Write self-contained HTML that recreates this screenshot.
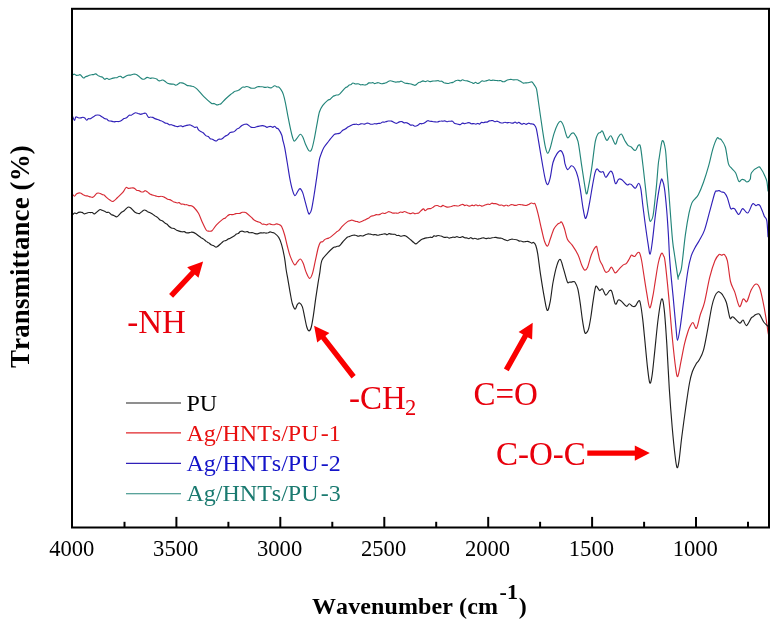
<!DOCTYPE html>
<html><head><meta charset="utf-8"><style>
html,body{margin:0;padding:0;background:#fff;}
svg{display:block;}
text{font-kerning:none;}
</style></head><body>
<svg width="777" height="626" viewBox="0 0 777 626">
<rect width="777" height="626" fill="#fff"/>
<g fill="none" stroke-width="1.15" stroke-linejoin="round" stroke-linecap="round">
<path stroke="#23857a" d="M72.6 74.8C72.92 74.70 73.88 74.12 74.5 74.2C75.17 74.31 75.81 75.19 76.4 75.4C77.09 75.52 77.73 75.31 78.4 75.2C79.02 75.13 79.45 74.34 80.3 74.8C81.15 75.26 82.64 77.69 83.5 78.0C84.36 78.31 84.79 76.99 85.4 76.7C86.08 76.36 86.72 76.37 87.4 76.1C88.01 75.88 88.62 75.44 89.3 75.2C89.98 74.96 90.72 74.79 91.4 74.7C92.14 74.58 92.86 74.71 93.6 74.6C94.28 74.44 94.91 73.70 95.7 73.9C96.49 74.10 97.43 75.30 98.3 75.8C99.17 76.23 100.15 76.44 100.9 76.7C101.65 76.96 102.17 76.92 102.8 77.4C103.43 77.78 104.02 79.13 104.7 79.3C105.38 79.47 106.14 78.32 106.9 78.3C107.59 78.37 108.31 79.38 109.0 79.4C109.76 79.50 110.52 78.92 111.2 78.7C111.88 78.48 112.47 78.29 113.1 78.1C113.73 77.99 114.36 77.90 115.0 77.8C115.64 77.70 116.30 77.79 117.0 77.6C117.60 77.35 118.25 76.70 118.9 76.5C119.55 76.30 120.20 76.14 120.8 76.4C121.50 76.57 122.05 77.79 122.8 77.8C123.55 77.81 124.50 76.85 125.3 76.4C126.20 75.98 127.04 75.43 127.9 75.2C128.76 74.97 129.63 75.22 130.5 75.1C131.37 74.89 132.25 74.34 133.1 74.2C133.95 74.06 134.75 73.96 135.6 74.2C136.45 74.44 137.33 75.03 138.2 75.7C139.07 76.30 140.05 77.41 140.8 78.0C141.55 78.59 142.07 79.05 142.7 79.2C143.33 79.38 143.85 79.30 144.6 79.0C145.35 78.70 146.33 77.51 147.2 77.4C148.07 77.29 148.93 78.24 149.8 78.3C150.67 78.44 151.61 78.03 152.4 78.0C153.19 77.97 153.82 78.00 154.5 78.2C155.24 78.37 155.96 78.67 156.7 79.1C157.38 79.54 158.12 80.57 158.8 80.8C159.48 81.03 160.10 80.60 160.8 80.5C161.40 80.33 161.99 79.86 162.7 80.0C163.41 80.14 164.19 80.75 165.0 81.3C165.81 81.85 166.70 82.87 167.6 83.3C168.40 83.74 169.35 83.76 170.1 83.9C170.85 84.04 171.39 84.07 172.0 84.1C172.68 84.21 173.32 84.14 174.0 84.3C174.61 84.49 175.26 85.20 175.9 85.2C176.54 85.20 177.19 84.69 177.8 84.3C178.48 83.93 179.12 83.15 179.8 82.9C180.41 82.68 180.94 82.77 181.7 82.9C182.46 83.03 183.43 83.29 184.3 83.7C185.17 84.12 186.11 85.07 186.9 85.4C187.69 85.73 188.32 85.55 189.0 85.7C189.74 85.79 190.46 85.99 191.2 86.1C191.88 86.27 192.51 86.17 193.3 86.5C194.09 86.83 195.03 87.44 195.9 88.1C196.77 88.81 197.22 89.22 198.5 90.6C199.78 91.98 201.47 94.30 203.6 96.4C205.73 98.50 209.69 102.04 211.3 103.2C212.91 104.36 212.59 103.24 213.2 103.4C213.88 103.49 214.52 103.68 215.2 104.0C215.81 104.22 216.45 104.94 217.1 105.0C217.75 105.06 218.40 104.50 219.1 104.3C219.70 104.07 219.93 104.58 221.0 103.7C222.07 102.82 223.90 100.53 225.5 99.0C227.10 97.47 229.39 95.51 230.6 94.5C231.81 93.49 232.04 93.47 232.8 92.9C233.49 92.39 234.21 91.62 234.9 91.3C235.66 90.91 236.42 91.00 237.1 90.8C237.78 90.60 238.39 90.48 239.0 90.1C239.68 89.67 240.32 88.87 241.0 88.4C241.61 87.84 242.26 87.19 242.9 87.0C243.54 86.81 244.19 87.31 244.8 87.2C245.48 87.14 246.12 86.54 246.8 86.5C247.41 86.46 248.02 86.73 248.7 87.0C249.38 87.27 250.12 87.91 250.8 88.1C251.54 88.33 252.26 88.26 253.0 88.2C253.68 88.22 254.32 88.25 255.1 88.0C255.88 87.75 256.80 86.96 257.6 86.7C258.50 86.53 259.37 86.69 260.2 86.7C261.03 86.71 261.83 86.67 262.6 86.8C263.47 86.90 264.26 87.36 265.1 87.4C265.94 87.44 266.95 86.95 267.7 87.0C268.45 87.05 268.97 87.59 269.6 87.7C270.23 87.82 270.65 88.02 271.5 87.7C272.35 87.38 273.79 85.93 274.7 85.8C275.61 85.67 276.20 86.67 276.9 86.9C277.70 87.20 278.29 86.54 279.2 87.4C280.11 88.26 281.55 90.35 282.4 92.1C283.25 93.85 283.67 95.45 284.3 97.9C284.93 100.35 285.57 103.60 286.2 106.8C286.83 110.00 287.35 113.27 288.1 117.1C288.85 120.93 289.95 126.40 290.7 129.8C291.45 133.20 292.02 135.62 292.6 137.5C293.18 139.38 293.45 141.00 294.2 141.1C294.95 141.20 296.08 139.23 297.1 138.1C298.12 136.97 299.35 134.50 300.3 134.3C301.25 134.10 301.95 135.30 302.8 136.9C303.65 138.50 304.33 141.57 305.4 143.9C306.47 146.23 308.13 150.05 309.2 150.9C310.27 151.75 310.95 151.02 311.8 149.0C312.65 146.98 313.45 142.85 314.3 138.8C315.15 134.75 316.05 129.17 316.9 124.7C317.75 120.23 318.45 115.18 319.4 112.0C320.35 108.82 321.22 107.53 322.6 105.6C323.98 103.67 326.43 101.47 327.7 100.4C328.97 99.33 329.40 99.83 330.2 99.2C331.10 98.56 332.07 97.19 332.8 96.6C333.53 96.01 334.03 95.94 334.6 95.7C335.27 95.41 335.89 95.13 336.5 95.0C337.11 94.87 337.70 95.09 338.3 94.9C338.90 94.66 338.93 94.86 340.1 93.7C341.27 92.54 344.11 89.03 345.3 87.9C346.49 86.77 346.58 87.41 347.2 86.9C347.87 86.49 348.51 85.57 349.1 85.1C349.79 84.70 350.43 84.72 351.1 84.4C351.72 84.01 352.25 83.06 353.0 83.0C353.75 82.94 354.73 83.88 355.6 84.0C356.47 84.15 357.41 83.68 358.2 83.8C358.99 83.92 359.62 84.62 360.3 84.8C361.04 84.89 361.76 84.57 362.5 84.6C363.18 84.65 363.89 85.02 364.6 85.0C365.31 84.98 366.02 84.82 366.7 84.5C367.44 84.13 368.16 83.17 368.9 82.9C369.58 82.68 370.34 83.05 371.0 83.0C371.66 82.95 372.23 82.55 372.8 82.6C373.46 82.74 374.07 83.53 374.7 83.6C375.30 83.65 375.91 83.18 376.5 83.0C377.14 82.89 377.76 82.65 378.4 82.7C378.99 82.76 379.60 83.20 380.2 83.4C380.83 83.52 381.44 83.66 382.1 83.7C382.67 83.67 383.24 83.54 383.9 83.4C384.56 83.26 385.32 83.13 386.0 82.8C386.74 82.49 387.46 81.80 388.2 81.5C388.88 81.13 389.51 80.82 390.3 80.8C391.09 80.78 392.03 81.14 392.9 81.4C393.77 81.57 394.74 82.02 395.5 82.1C396.26 82.18 396.79 81.84 397.4 81.8C398.08 81.79 398.72 82.05 399.4 81.9C400.01 81.84 400.44 81.02 401.3 81.2C402.16 81.38 403.54 82.63 404.5 83.0C405.46 83.37 406.20 83.30 407.1 83.4C407.90 83.57 408.74 83.64 409.6 83.8C410.46 83.96 411.33 84.13 412.2 84.4C413.07 84.63 414.04 85.33 414.8 85.3C415.56 85.27 416.09 84.70 416.7 84.2C417.38 83.74 418.02 82.77 418.7 82.4C419.31 82.06 419.88 82.35 420.6 82.1C421.32 81.85 422.18 81.03 423.0 80.9C423.76 80.85 424.54 81.58 425.3 81.6C426.12 81.54 426.93 80.79 427.7 80.8C428.47 80.81 429.19 81.59 429.9 81.6C430.68 81.69 431.42 81.19 432.2 81.1C432.91 80.98 433.72 81.03 434.4 81.0C435.08 80.97 435.63 80.97 436.2 80.9C436.87 80.84 437.48 80.57 438.1 80.6C438.72 80.68 439.33 81.12 439.9 81.2C440.57 81.34 441.12 81.04 441.8 81.3C442.48 81.56 443.29 82.49 444.0 82.8C444.78 83.12 445.52 83.08 446.3 83.2C447.01 83.32 447.76 83.58 448.5 83.5C449.24 83.42 449.99 82.91 450.7 82.7C451.48 82.55 452.22 82.70 453.0 82.4C453.71 82.12 454.52 81.36 455.2 81.0C455.88 80.64 456.43 80.37 457.1 80.3C457.67 80.18 458.28 80.33 458.9 80.4C459.52 80.51 460.13 80.93 460.8 80.8C461.37 80.72 461.98 79.86 462.6 79.8C463.22 79.74 463.83 80.30 464.5 80.5C465.07 80.65 465.68 80.73 466.3 80.8C466.92 80.94 467.53 80.89 468.1 81.1C468.77 81.28 469.38 81.77 470.0 82.0C470.62 82.23 471.23 82.20 471.9 82.5C472.47 82.70 473.08 83.50 473.7 83.5C474.32 83.46 474.93 82.33 475.5 82.3C476.17 82.34 476.72 83.44 477.4 83.5C478.07 83.56 478.87 83.12 479.6 82.7C480.33 82.29 481.12 81.25 481.8 81.0C482.48 80.75 483.03 81.21 483.6 81.2C484.27 81.22 484.88 81.14 485.5 81.0C486.12 80.90 486.73 80.69 487.4 80.5C487.97 80.28 488.58 79.80 489.2 79.8C489.82 79.80 490.43 80.41 491.1 80.5C491.67 80.53 492.28 80.19 492.9 80.2C493.52 80.17 494.13 80.37 494.8 80.4C495.37 80.48 495.96 80.45 496.6 80.5C497.24 80.55 497.91 80.74 498.6 80.7C499.22 80.75 499.88 80.38 500.5 80.5C501.19 80.67 501.84 81.42 502.5 81.6C503.16 81.78 503.81 81.77 504.5 81.6C505.12 81.41 505.78 80.81 506.4 80.5C507.09 80.21 507.70 80.00 508.4 79.8C509.10 79.60 509.88 79.32 510.6 79.3C511.37 79.32 512.11 79.73 512.8 79.8C513.59 79.88 514.33 79.78 515.1 79.8C515.82 79.77 516.60 79.65 517.3 79.8C518.00 79.95 518.61 80.35 519.3 80.7C519.92 81.00 520.58 81.35 521.2 81.8C521.89 82.16 522.49 82.91 523.2 83.1C523.91 83.29 524.71 82.95 525.5 82.9C526.22 82.84 526.98 82.86 527.7 82.8C528.49 82.67 529.27 82.43 530.0 82.3C530.73 82.17 531.30 81.42 532.1 82.0C532.90 82.58 534.05 84.57 534.8 85.8C535.55 87.03 535.97 86.53 536.6 89.4C537.23 92.27 537.62 96.25 538.6 103.0C539.58 109.75 541.37 122.53 542.5 129.9C543.63 137.27 544.53 143.30 545.4 147.2C546.27 151.10 546.90 153.15 547.7 153.3C548.50 153.45 549.15 151.37 550.2 148.1C551.25 144.83 552.73 137.70 554.0 133.7C555.27 129.70 556.68 126.17 557.8 124.1C558.92 122.03 559.73 120.97 560.7 121.3C561.67 121.63 562.48 123.38 563.6 126.1C564.72 128.82 566.12 136.33 567.4 137.6C568.68 138.87 570.18 134.40 571.3 133.7C572.42 133.00 572.98 132.12 574.1 133.4C575.22 134.68 576.72 135.90 578.0 141.4C579.28 146.90 580.52 158.08 581.8 166.4C583.08 174.72 584.88 186.83 585.7 191.3C586.52 195.77 586.38 193.20 586.7 193.2C587.02 193.20 586.82 195.13 587.6 191.3C588.38 187.47 590.12 178.52 591.4 170.2C592.68 161.88 594.18 147.48 595.3 141.4C596.42 135.32 597.27 135.16 598.1 133.7C598.93 132.24 599.57 133.05 600.3 132.6C601.03 132.21 601.43 129.92 602.5 131.2C603.57 132.48 605.32 139.53 606.7 140.3C608.08 141.07 609.37 135.15 610.8 135.8C612.23 136.45 614.12 143.83 615.3 144.2C616.48 144.57 616.90 139.70 617.9 138.0C618.90 136.30 620.13 133.55 621.3 134.0C622.47 134.45 623.78 138.82 624.9 140.7C626.02 142.58 626.95 144.25 628.0 145.3C629.05 146.35 629.98 146.13 631.2 147.0C632.42 147.87 634.10 150.78 635.3 150.5C636.50 150.22 637.53 145.88 638.4 145.3C639.27 144.72 639.75 143.72 640.5 147.0C641.25 150.28 642.13 158.77 642.9 165.0C643.67 171.23 644.38 178.05 645.1 184.4C645.82 190.75 646.48 197.35 647.2 203.1C647.92 208.85 648.80 215.90 649.4 218.9C650.00 221.90 650.20 221.58 650.8 221.1C651.40 220.62 652.28 219.72 653.0 216.0C653.72 212.28 654.50 204.07 655.1 198.8C655.70 193.53 656.08 190.03 656.6 184.4C657.12 178.77 657.77 169.43 658.2 165.0C658.63 160.57 658.52 161.85 659.2 157.8C659.88 153.75 661.27 142.08 662.3 140.7C663.33 139.32 664.62 144.62 665.4 149.5C666.18 154.38 666.43 162.98 667.0 170.0C667.57 177.02 668.18 183.68 668.8 191.6C669.42 199.52 670.05 209.12 670.7 217.5C671.35 225.88 672.03 235.48 672.7 241.9C673.37 248.32 673.83 250.07 674.7 256.0C675.57 261.93 677.30 274.00 677.9 277.5C678.50 281.00 677.77 278.27 678.3 277.0C678.83 275.73 680.40 272.73 681.1 269.9C681.80 267.07 681.78 265.87 682.5 260.0C683.22 254.13 684.32 242.50 685.4 234.7C686.48 226.90 687.93 218.47 689.0 213.2C690.07 207.93 690.80 205.50 691.8 203.1C692.80 200.70 693.92 200.18 695.0 198.8C696.08 197.42 696.88 197.55 698.3 194.8C699.72 192.05 701.77 187.15 703.5 182.3C705.23 177.45 707.15 171.23 708.7 165.7C710.25 160.17 711.42 153.67 712.8 149.1C714.18 144.53 715.95 139.99 717.0 138.3C718.05 136.61 718.40 138.70 719.1 138.9C719.80 139.17 720.17 138.36 721.2 139.7C722.23 141.04 724.10 143.02 725.3 147.0C726.50 150.98 727.37 160.07 728.4 163.6C729.43 167.13 730.28 166.63 731.5 168.2C732.72 169.77 734.48 170.82 735.7 173.0C736.92 175.18 737.77 180.22 738.8 181.3C739.83 182.38 740.96 179.72 741.9 179.5C742.84 179.28 743.60 179.58 744.5 180.0C745.30 180.41 746.04 182.13 747.0 182.0C747.96 181.87 749.45 180.73 750.2 179.2C750.95 177.67 750.12 174.83 751.5 172.8C752.88 170.77 756.90 167.63 758.5 167.0C760.10 166.37 760.13 167.72 761.1 169.0C762.07 170.28 763.35 172.68 764.3 174.7C765.25 176.72 766.18 178.38 766.8 181.1C767.42 183.82 767.80 189.35 768.0 191.0"/>
<path stroke="#3020b8" d="M72.6 116.6C72.92 117.25 73.97 120.43 74.5 120.5C75.03 120.57 75.19 117.45 75.8 117.0C76.41 116.55 77.38 117.68 78.2 117.8C78.96 117.98 79.74 118.00 80.5 117.9C81.32 117.83 82.19 117.28 82.9 117.3C83.61 117.32 84.17 117.56 84.8 118.0C85.43 118.52 86.08 120.11 86.7 120.2C87.32 120.29 87.90 118.79 88.5 118.6C89.10 118.32 89.70 118.93 90.3 118.8C90.90 118.62 91.50 118.01 92.1 117.6C92.70 117.27 93.30 116.94 93.9 116.6C94.50 116.16 95.08 115.56 95.7 115.3C96.33 115.04 97.00 114.99 97.7 115.0C98.30 114.99 98.97 115.04 99.6 115.3C100.22 115.56 100.80 116.16 101.4 116.5C102.00 116.94 102.60 117.28 103.2 117.6C103.80 117.98 104.40 118.43 105.0 118.7C105.60 118.91 106.20 118.74 106.8 119.1C107.40 119.41 107.87 120.36 108.6 120.7C109.33 121.04 110.33 120.96 111.2 121.1C112.07 121.32 112.94 121.74 113.8 121.8C114.66 121.86 115.50 121.53 116.3 121.5C117.20 121.43 118.04 121.68 118.9 121.5C119.76 121.32 120.63 120.89 121.5 120.4C122.37 119.92 123.24 119.04 124.1 118.6C124.96 118.16 125.80 118.29 126.6 117.7C127.50 117.19 128.42 115.73 129.2 115.3C129.98 114.87 130.62 115.45 131.3 115.2C132.04 114.92 132.76 114.10 133.5 113.7C134.18 113.31 134.81 112.84 135.6 112.8C136.39 112.76 137.33 113.21 138.2 113.5C139.07 113.71 139.94 114.30 140.8 114.3C141.66 114.30 142.50 113.63 143.4 113.5C144.20 113.33 145.04 112.76 145.9 113.4C146.76 114.04 147.71 116.70 148.5 117.3C149.29 117.90 149.92 116.97 150.6 117.0C151.34 117.01 152.06 117.14 152.8 117.4C153.48 117.68 154.11 118.25 154.9 118.6C155.69 118.95 156.63 119.18 157.5 119.5C158.37 119.81 159.24 120.16 160.1 120.5C160.96 120.84 161.80 121.08 162.6 121.5C163.50 121.94 164.43 122.78 165.2 123.1C165.97 123.42 166.58 123.16 167.3 123.4C167.96 123.72 168.64 124.58 169.3 124.8C170.02 125.00 170.73 124.60 171.4 124.7C172.07 124.80 172.69 125.15 173.3 125.4C173.98 125.60 174.62 125.86 175.3 126.1C175.91 126.27 176.56 126.58 177.2 126.6C177.84 126.62 178.49 126.30 179.1 126.2C179.78 126.05 180.42 125.77 181.1 125.8C181.71 125.91 182.24 126.64 183.0 126.6C183.76 126.56 184.73 125.82 185.6 125.6C186.47 125.32 187.40 125.19 188.2 125.1C189.00 125.01 189.65 124.85 190.4 125.0C191.10 125.19 191.83 125.72 192.6 126.1C193.28 126.51 194.00 127.23 194.7 127.4C195.45 127.56 196.27 126.68 196.9 127.1C197.53 127.52 197.85 129.15 198.5 129.9C199.15 130.65 200.03 131.15 200.8 131.6C201.57 132.11 202.20 132.09 203.1 132.8C204.00 133.51 205.34 135.28 206.2 135.9C207.06 136.52 207.58 136.02 208.3 136.5C208.96 136.96 209.64 138.28 210.3 138.7C211.02 139.18 211.71 138.90 212.4 139.2C213.09 139.50 213.80 140.24 214.5 140.5C215.20 140.81 215.92 141.10 216.6 140.9C217.28 140.70 217.75 139.62 218.6 139.3C219.45 138.98 220.68 139.45 221.7 139.0C222.72 138.55 223.89 137.17 224.7 136.6C225.51 136.03 225.92 135.93 226.5 135.6C227.14 135.22 227.76 134.98 228.4 134.5C228.98 133.92 229.39 132.81 230.2 132.4C231.01 131.99 232.38 132.25 233.2 132.0C234.02 131.75 234.50 131.39 235.1 130.9C235.80 130.35 236.45 129.38 237.1 128.9C237.75 128.42 238.40 128.46 239.1 128.0C239.70 127.56 240.36 126.70 241.0 126.2C241.64 125.70 242.27 125.33 242.9 125.0C243.53 124.70 244.10 124.42 244.8 124.3C245.50 124.18 246.13 123.87 247.1 124.3C248.07 124.73 249.62 126.37 250.6 126.9C251.58 127.43 252.18 127.44 253.0 127.5C253.76 127.57 254.54 127.49 255.3 127.3C256.12 127.12 256.92 126.62 257.7 126.4C258.48 126.18 259.19 126.13 260.0 126.0C260.81 125.87 261.70 125.56 262.6 125.6C263.40 125.66 264.36 126.02 265.1 126.3C265.84 126.58 266.15 127.30 267.0 127.3C267.85 127.30 269.23 126.30 270.2 126.3C271.17 126.30 272.05 127.30 272.8 127.3C273.55 127.30 274.07 126.16 274.7 126.3C275.33 126.44 275.97 127.67 276.6 128.2C277.23 128.64 277.65 128.06 278.5 129.2C279.35 130.34 280.98 133.20 281.7 135.0C282.42 136.80 282.30 137.88 282.8 140.0C283.30 142.12 283.95 143.87 284.7 147.7C285.45 151.53 286.45 157.90 287.3 163.0C288.15 168.10 288.95 173.83 289.8 178.3C290.65 182.77 291.55 186.92 292.4 189.8C293.25 192.68 294.05 195.27 294.9 195.6C295.75 195.93 296.65 192.97 297.5 191.8C298.35 190.63 299.15 188.50 300.0 188.6C300.85 188.70 301.75 190.28 302.6 192.4C303.45 194.52 304.15 197.90 305.1 201.3C306.05 204.70 307.55 210.77 308.3 212.8C309.05 214.83 309.07 214.03 309.6 213.5C310.13 212.97 310.75 212.68 311.5 209.6C312.25 206.52 313.25 200.22 314.1 195.0C314.95 189.78 315.75 184.07 316.6 178.3C317.45 172.53 318.45 164.43 319.2 160.4C319.95 156.37 320.32 156.25 321.1 154.1C321.88 151.95 322.62 149.68 323.9 147.5C325.18 145.32 327.10 143.15 328.8 141.0C330.50 138.85 332.73 135.80 334.1 134.6C335.47 133.40 336.00 134.08 337.0 133.8C338.00 133.52 339.15 133.48 340.1 132.9C341.05 132.32 341.83 130.94 342.7 130.3C343.57 129.66 344.43 129.58 345.3 129.0C346.17 128.51 347.04 127.65 347.9 127.1C348.76 126.55 349.60 126.17 350.4 125.7C351.30 125.30 352.25 124.72 353.0 124.5C353.75 124.28 354.28 124.45 354.9 124.4C355.57 124.35 356.21 124.13 356.9 124.2C357.49 124.24 358.13 124.78 358.8 124.7C359.42 124.68 360.05 124.06 360.7 123.9C361.35 123.74 362.00 123.71 362.6 123.8C363.30 123.79 363.95 124.22 364.6 124.1C365.25 124.04 365.90 123.35 366.6 123.2C367.20 123.08 367.85 123.16 368.5 123.3C369.15 123.44 369.78 123.91 370.4 124.1C371.07 124.22 371.71 124.30 372.4 124.2C372.99 124.18 373.63 123.74 374.3 123.7C374.92 123.63 375.52 123.95 376.2 123.9C376.88 123.85 377.62 123.47 378.3 123.4C379.04 123.28 379.76 123.54 380.5 123.3C381.18 123.08 381.94 122.19 382.6 122.0C383.26 121.81 383.80 122.24 384.4 122.2C385.00 122.11 385.60 121.81 386.2 121.6C386.80 121.42 387.40 121.12 388.0 121.0C388.60 120.91 389.20 120.99 389.8 121.0C390.40 121.01 390.87 120.85 391.6 121.1C392.33 121.35 393.33 122.15 394.2 122.5C395.07 122.89 395.94 123.40 396.8 123.3C397.66 123.20 398.50 122.20 399.4 121.9C400.20 121.63 401.11 121.43 401.9 121.6C402.69 121.77 403.34 122.76 404.1 122.9C404.79 123.08 405.51 122.45 406.2 122.6C406.96 122.68 407.68 123.17 408.4 123.6C409.12 124.03 409.82 124.89 410.5 125.1C411.24 125.36 411.96 124.85 412.7 125.0C413.38 125.21 414.02 126.10 414.8 126.2C415.58 126.30 416.50 126.07 417.4 125.6C418.20 125.20 419.15 123.91 419.9 123.6C420.65 123.29 421.20 123.83 421.9 123.8C422.50 123.73 423.15 123.60 423.8 123.3C424.45 123.00 425.10 122.44 425.8 122.0C426.40 121.57 426.99 120.83 427.7 120.7C428.41 120.57 429.31 121.08 430.0 121.2C430.69 121.32 431.23 121.32 431.9 121.4C432.47 121.54 433.08 121.76 433.7 121.8C434.32 121.93 434.93 121.91 435.5 121.9C436.17 121.97 436.78 122.09 437.4 122.0C438.02 121.91 438.63 121.59 439.2 121.4C439.87 121.25 440.48 121.02 441.1 121.0C441.72 120.94 442.33 121.21 442.9 121.2C443.57 121.18 444.16 120.82 444.8 120.9C445.44 120.98 446.11 121.63 446.8 121.7C447.42 121.76 448.08 121.38 448.7 121.3C449.39 121.21 450.06 121.20 450.7 121.2C451.34 121.20 451.93 120.94 452.6 121.3C453.17 121.61 453.78 122.79 454.4 123.2C455.02 123.64 455.63 123.65 456.2 123.8C456.87 123.98 457.42 124.08 458.1 124.2C458.78 124.32 459.58 124.73 460.3 124.6C461.07 124.37 461.81 123.25 462.6 123.1C463.29 122.96 464.03 123.71 464.8 123.7C465.52 123.67 466.26 123.18 467.0 123.0C467.74 122.82 468.48 122.45 469.2 122.6C469.97 122.73 470.71 123.69 471.4 123.8C472.19 124.00 472.93 123.48 473.7 123.5C474.42 123.60 475.22 124.22 475.9 124.2C476.58 124.18 477.13 123.41 477.8 123.4C478.37 123.36 478.98 124.21 479.6 124.1C480.22 123.89 480.83 122.67 481.4 122.4C482.07 122.22 482.66 122.75 483.3 122.7C483.94 122.65 484.61 122.24 485.3 122.1C485.92 122.03 486.58 122.27 487.2 122.1C487.89 121.86 488.56 121.15 489.2 120.9C489.84 120.65 490.43 120.62 491.1 120.6C491.67 120.51 492.28 120.39 492.9 120.6C493.52 120.78 494.13 121.63 494.8 121.7C495.37 121.84 495.96 121.21 496.6 121.2C497.24 121.19 497.91 121.42 498.6 121.7C499.22 121.93 499.88 122.53 500.5 122.7C501.19 122.97 501.80 123.08 502.5 123.0C503.20 122.92 503.98 122.29 504.7 122.3C505.47 122.21 506.21 122.74 506.9 122.8C507.69 122.82 508.43 122.44 509.2 122.5C509.92 122.51 510.72 122.89 511.4 123.0C512.08 123.11 512.63 123.29 513.2 123.1C513.87 122.97 514.48 122.01 515.1 122.0C515.72 122.06 516.33 123.22 516.9 123.3C517.57 123.34 517.99 122.25 518.8 122.4C519.61 122.55 520.93 124.04 521.8 124.2C522.67 124.36 523.27 123.33 524.0 123.4C524.73 123.40 525.47 124.44 526.2 124.4C526.93 124.39 527.67 123.30 528.4 123.2C529.13 123.12 529.92 123.77 530.6 123.9C531.28 124.03 531.83 123.84 532.5 124.0C533.07 124.18 533.66 124.13 534.3 124.9C534.94 125.67 535.58 125.85 536.3 128.6C537.02 131.35 537.57 135.42 538.6 141.4C539.63 147.38 541.37 158.10 542.5 164.5C543.63 170.90 544.53 176.45 545.4 179.8C546.27 183.15 546.90 184.92 547.7 184.6C548.50 184.28 549.32 181.58 550.2 177.9C551.08 174.22 551.88 166.50 553.0 162.5C554.12 158.50 555.62 155.88 556.9 153.9C558.18 151.92 559.58 150.28 560.7 150.6C561.82 150.92 562.88 153.60 563.6 155.8C564.32 158.00 564.33 161.50 565.0 163.8C565.67 166.10 566.53 169.27 567.6 169.6C568.67 169.93 570.23 166.02 571.4 165.8C572.57 165.58 573.53 166.50 574.6 168.3C575.67 170.10 576.85 173.08 577.8 176.6C578.75 180.12 579.45 184.28 580.3 189.4C581.15 194.52 582.08 202.52 582.9 207.3C583.72 212.08 584.45 217.03 585.2 218.1C585.95 219.17 586.62 216.57 587.4 213.7C588.18 210.83 589.05 205.58 589.9 200.9C590.75 196.22 591.65 190.28 592.5 185.6C593.35 180.92 594.25 175.58 595.0 172.8C595.75 170.02 596.25 169.12 597.0 168.9C597.75 168.68 598.77 170.96 599.5 171.5C600.23 172.04 600.77 172.10 601.4 172.2C602.03 172.20 602.55 170.94 603.3 171.8C604.05 172.66 604.72 177.40 605.9 177.3C607.08 177.20 609.23 171.73 610.4 171.2C611.57 170.67 612.05 172.03 612.9 174.1C613.75 176.17 614.53 182.75 615.5 183.6C616.47 184.45 617.63 179.83 618.7 179.2C619.77 178.57 620.52 178.87 621.9 179.8C623.28 180.73 625.80 184.09 627.0 184.8C628.20 185.51 628.40 184.12 629.1 184.1C629.80 183.98 630.17 183.69 631.2 184.4C632.23 185.11 634.07 188.50 635.3 188.3C636.53 188.10 637.68 183.13 638.6 183.2C639.52 183.27 640.08 184.90 640.8 188.7C641.52 192.50 642.18 200.25 642.9 206.0C643.62 211.75 644.25 216.97 645.1 223.2C645.95 229.43 647.17 238.23 648.0 243.4C648.83 248.57 649.38 254.45 650.1 254.2C650.82 253.95 651.47 248.02 652.3 241.9C653.13 235.78 654.15 225.17 655.1 217.5C656.05 209.83 657.03 202.02 658.0 195.9C658.97 189.78 660.18 183.43 660.9 180.8C661.62 178.17 661.70 178.78 662.3 180.1C662.90 181.42 663.77 183.67 664.5 188.7C665.23 193.73 666.05 202.63 666.7 210.3C667.35 217.97 667.93 227.03 668.4 234.7C668.87 242.37 669.07 249.58 669.5 256.3C669.93 263.02 670.40 268.32 671.0 275.0C671.60 281.68 672.27 287.57 673.1 296.4C673.93 305.23 675.27 320.68 676.0 328.0C676.73 335.32 676.82 340.30 677.5 340.3C678.18 340.30 679.08 334.45 680.1 328.0C681.12 321.55 682.28 311.27 683.6 301.6C684.92 291.93 686.75 277.55 688.0 270.0C689.25 262.45 689.93 260.02 691.1 256.3C692.27 252.58 693.63 250.33 695.0 247.7C696.37 245.07 697.72 243.43 699.3 240.5C700.88 237.57 702.77 234.95 704.5 230.1C706.23 225.25 707.97 217.63 709.7 211.4C711.43 205.17 713.68 196.08 714.9 192.7C716.12 189.32 716.30 191.49 717.0 191.1C717.70 190.79 718.32 190.46 719.1 190.6C719.88 190.74 720.83 191.61 721.7 192.0C722.57 192.31 723.35 191.71 724.3 192.7C725.25 193.69 726.37 195.30 727.4 197.9C728.43 200.50 729.63 206.55 730.5 208.3C731.37 210.05 731.90 208.32 732.6 208.4C733.30 208.52 733.67 207.89 734.7 208.9C735.73 209.91 737.48 214.55 738.8 214.5C740.12 214.45 741.12 208.85 742.6 208.6C744.08 208.35 746.12 213.68 747.7 213.0C749.28 212.32 751.05 206.00 752.1 204.5C753.15 203.00 753.38 203.79 754.0 204.0C754.67 204.20 755.31 205.63 756.0 205.7C756.59 205.84 757.23 204.67 757.9 204.6C758.52 204.56 759.05 204.32 759.8 205.4C760.55 206.48 761.65 209.30 762.4 211.1C763.15 212.90 763.57 214.60 764.3 216.2C765.03 217.80 766.18 217.28 766.8 220.7C767.42 224.12 767.80 234.03 768.0 236.7"/>
<path stroke="#d72a34" d="M72.6 194.3C72.92 194.62 73.87 196.25 74.5 196.2C75.13 196.15 75.76 194.52 76.4 194.0C77.04 193.48 77.70 193.25 78.3 193.1C79.00 192.91 79.55 192.77 80.3 193.0C81.05 193.23 82.00 194.00 82.8 194.5C83.70 194.94 84.65 195.56 85.4 195.8C86.15 196.04 86.70 195.78 87.4 195.9C88.00 196.05 88.65 196.44 89.3 196.6C89.95 196.79 90.60 196.90 91.2 197.0C91.90 197.06 92.24 197.71 93.2 197.1C94.16 196.49 95.93 193.94 97.0 193.3C98.07 192.66 98.73 193.04 99.6 193.3C100.47 193.47 101.45 194.31 102.2 194.6C102.95 194.89 103.47 194.59 104.1 195.0C104.73 195.35 105.03 196.05 106.0 196.9C106.97 197.75 108.72 199.35 109.9 200.1C111.08 200.85 111.82 201.83 113.1 201.4C114.38 200.97 115.98 199.00 117.6 197.5C119.22 196.00 121.40 194.05 122.8 192.4C124.20 190.75 125.09 188.27 126.0 187.6C126.91 186.93 127.50 188.31 128.2 188.4C129.00 188.47 129.69 188.18 130.5 188.1C131.31 188.02 132.35 187.79 133.1 187.9C133.85 188.01 134.37 188.35 135.0 188.8C135.63 189.18 136.26 190.09 136.9 190.4C137.54 190.71 138.20 190.41 138.9 190.6C139.50 190.84 140.10 191.47 140.8 191.7C141.50 191.93 142.30 192.16 143.1 192.0C143.80 191.83 144.53 190.68 145.3 190.7C146.07 190.72 146.88 191.52 147.7 192.1C148.46 192.65 149.24 193.62 150.0 194.1C150.82 194.59 151.65 194.77 152.4 195.0C153.15 195.23 153.82 195.28 154.5 195.5C155.24 195.71 155.96 196.11 156.7 196.3C157.38 196.47 158.01 196.60 158.8 196.6C159.59 196.60 160.53 196.21 161.4 196.3C162.27 196.37 163.26 196.79 164.0 197.1C164.74 197.41 165.23 197.77 165.8 198.1C166.47 198.51 167.08 199.09 167.7 199.3C168.32 199.58 168.93 199.44 169.6 199.6C170.17 199.79 170.77 200.06 171.4 200.4C172.03 200.74 172.69 201.32 173.3 201.7C173.98 201.99 174.62 202.18 175.3 202.4C175.91 202.63 176.56 202.96 177.2 203.0C177.84 203.04 178.49 202.46 179.1 202.6C179.78 202.82 180.42 203.85 181.1 204.1C181.71 204.31 182.36 203.90 183.0 204.0C183.64 204.10 184.29 204.55 184.9 204.7C185.58 204.80 186.22 204.60 186.9 204.7C187.51 204.90 188.04 205.42 188.8 205.6C189.56 205.78 190.53 205.48 191.4 205.8C192.27 206.12 192.82 206.25 194.0 207.5C195.18 208.75 197.12 210.83 198.5 213.3C199.88 215.77 201.02 219.52 202.3 222.3C203.58 225.08 205.12 228.53 206.2 230.0C207.28 231.47 207.83 230.98 208.8 231.1C209.77 231.22 210.72 231.73 212.0 230.7C213.28 229.67 214.68 226.83 216.5 224.9C218.32 222.97 221.47 220.22 222.9 219.1C224.33 217.98 224.34 218.69 225.1 218.2C225.79 217.68 226.51 216.65 227.2 216.1C227.96 215.46 228.68 214.84 229.4 214.6C230.12 214.36 230.82 214.63 231.5 214.6C232.24 214.61 232.96 214.71 233.7 214.5C234.38 214.37 235.09 213.77 235.8 213.6C236.51 213.43 237.22 213.54 237.9 213.5C238.64 213.48 239.36 213.61 240.1 213.4C240.78 213.21 241.52 212.48 242.2 212.3C242.88 212.12 243.50 212.27 244.1 212.3C244.80 212.40 244.92 211.89 246.1 212.7C247.28 213.51 249.92 216.03 251.2 217.2C252.48 218.37 252.93 219.05 253.8 219.7C254.67 220.41 255.65 220.95 256.4 221.3C257.15 221.65 257.67 221.64 258.3 221.9C258.93 222.08 259.54 222.23 260.2 222.6C260.86 222.97 261.57 223.83 262.2 224.1C262.93 224.36 263.56 224.07 264.3 224.2C265.04 224.33 265.90 224.98 266.7 224.9C267.50 224.83 268.30 223.82 269.1 223.8C269.90 223.69 270.62 224.34 271.5 224.5C272.38 224.66 273.62 224.81 274.4 224.7C275.18 224.59 275.60 223.95 276.2 223.9C276.80 223.78 277.40 224.02 278.0 224.2C278.60 224.38 279.20 224.55 279.8 224.9C280.40 225.35 280.82 225.01 281.6 226.6C282.38 228.19 283.55 231.27 284.5 234.5C285.45 237.73 286.35 242.40 287.3 246.0C288.25 249.60 289.00 252.98 290.2 256.1C291.40 259.22 293.30 263.73 294.5 264.7C295.70 265.67 296.43 262.85 297.4 261.9C298.37 260.95 299.33 258.77 300.3 259.0C301.27 259.23 302.25 261.15 303.2 263.3C304.15 265.45 304.93 269.38 306.0 271.9C307.07 274.42 308.52 278.15 309.6 278.4C310.68 278.65 311.53 276.40 312.5 273.4C313.47 270.40 314.43 264.72 315.4 260.4C316.37 256.08 317.47 250.50 318.3 247.5C319.13 244.50 319.69 243.36 320.4 242.4C321.11 241.44 321.83 242.21 322.5 241.7C323.27 241.28 324.02 240.11 324.7 239.6C325.38 239.09 325.99 238.91 326.6 238.7C327.28 238.42 327.92 238.40 328.6 238.1C329.21 237.88 329.43 237.89 330.5 237.1C331.57 236.31 333.93 234.32 335.0 233.4C336.07 232.48 336.30 232.08 336.9 231.6C337.60 231.08 337.94 231.35 338.9 230.4C339.86 229.45 341.20 227.40 342.7 225.9C344.20 224.40 346.72 222.26 347.9 221.4C349.08 220.54 349.17 220.98 349.8 220.8C350.43 220.54 351.06 220.13 351.7 220.1C352.34 220.07 353.00 220.35 353.6 220.6C354.30 220.78 354.95 221.23 355.6 221.4C356.25 221.57 356.90 221.46 357.6 221.6C358.20 221.76 358.75 222.35 359.5 222.3C360.25 222.25 361.20 221.70 362.1 221.3C362.90 220.97 363.82 220.50 364.6 220.1C365.38 219.70 366.02 219.26 366.7 218.9C367.44 218.61 368.16 218.60 368.9 218.1C369.58 217.69 370.21 216.61 371.0 216.2C371.79 215.79 372.73 215.96 373.6 215.7C374.47 215.42 375.41 214.76 376.2 214.6C376.99 214.44 377.62 214.84 378.3 214.8C379.04 214.67 379.76 214.40 380.5 214.1C381.18 213.81 381.92 213.09 382.6 213.0C383.28 212.91 383.88 213.57 384.5 213.5C385.17 213.50 385.81 213.08 386.5 212.8C387.09 212.47 387.73 211.84 388.4 211.7C389.02 211.58 389.55 211.77 390.3 212.0C391.05 212.23 392.03 212.91 392.9 213.1C393.77 213.24 394.64 212.97 395.5 213.0C396.36 213.03 397.20 213.41 398.1 213.2C398.90 213.08 399.85 212.14 400.6 212.0C401.35 211.86 401.90 212.48 402.6 212.4C403.20 212.31 403.80 211.48 404.5 211.5C405.20 211.52 406.00 212.21 406.8 212.5C407.50 212.81 408.30 213.12 409.0 213.3C409.70 213.48 410.29 213.68 410.9 213.6C411.59 213.49 412.23 212.71 412.9 212.7C413.53 212.73 414.17 213.57 414.8 213.7C415.47 213.73 416.11 213.29 416.8 213.2C417.41 213.07 417.63 213.71 418.7 213.0C419.77 212.29 422.13 209.28 423.2 208.9C424.27 208.52 424.35 210.70 425.1 210.7C425.85 210.70 426.72 209.27 427.7 208.9C428.68 208.53 430.09 208.79 431.0 208.5C431.91 208.21 432.42 207.61 433.1 207.2C433.84 206.71 434.56 206.08 435.3 205.8C435.98 205.53 436.74 205.42 437.4 205.5C438.06 205.58 438.63 206.07 439.2 206.3C439.87 206.46 440.48 206.82 441.1 206.7C441.72 206.55 442.33 205.51 442.9 205.4C443.57 205.38 444.12 206.02 444.8 206.3C445.48 206.58 446.27 207.01 447.0 207.1C447.73 207.25 448.50 207.11 449.2 207.0C449.90 206.89 450.52 206.71 451.2 206.5C451.84 206.27 452.51 205.86 453.2 205.7C453.83 205.55 454.49 205.53 455.1 205.6C455.81 205.61 456.47 205.93 457.1 206.0C457.79 206.00 458.46 205.96 459.1 205.8C459.78 205.57 460.46 205.03 461.1 204.8C461.74 204.57 462.33 204.24 463.0 204.4C463.57 204.50 464.18 205.48 464.8 205.6C465.42 205.68 466.03 204.90 466.6 205.0C467.27 205.04 467.88 205.82 468.5 206.0C469.12 206.18 469.73 206.19 470.4 206.0C470.97 205.90 471.58 205.19 472.2 205.1C472.82 205.07 473.43 205.76 474.0 205.7C474.67 205.65 475.25 204.79 475.9 204.8C476.55 204.81 477.25 205.68 477.9 205.7C478.60 205.80 479.27 205.10 479.9 205.2C480.62 205.22 481.30 206.07 482.0 206.1C482.65 206.18 483.34 205.72 484.0 205.5C484.66 205.28 485.28 205.05 485.9 204.8C486.56 204.58 487.20 204.11 487.8 204.1C488.48 204.01 489.12 204.66 489.8 204.5C490.40 204.38 491.04 203.38 491.7 203.2C492.32 203.08 492.93 203.54 493.6 203.6C494.27 203.66 494.99 203.46 495.7 203.6C496.37 203.73 497.07 204.14 497.8 204.4C498.45 204.68 499.15 205.12 499.8 205.2C500.53 205.31 501.23 204.84 501.9 205.0C502.61 205.10 503.28 206.00 504.0 206.0C504.72 206.00 505.48 204.97 506.2 205.0C506.97 204.97 507.71 206.02 508.4 206.0C509.19 205.96 509.93 205.00 510.7 204.8C511.42 204.60 512.20 204.69 512.9 204.8C513.60 204.91 514.21 205.36 514.9 205.4C515.52 205.51 516.18 205.39 516.8 205.2C517.49 205.08 518.16 204.61 518.8 204.5C519.44 204.39 520.03 204.48 520.6 204.6C521.27 204.63 521.88 204.82 522.5 204.9C523.12 205.06 523.73 205.19 524.4 205.3C524.97 205.38 525.46 205.63 526.2 205.5C526.94 205.37 527.93 204.90 528.8 204.5C529.67 204.06 530.66 203.13 531.4 203.0C532.14 202.87 532.63 203.52 533.2 203.7C533.87 203.89 534.31 202.43 535.1 204.1C535.89 205.77 536.90 209.38 538.0 213.7C539.10 218.02 540.58 225.32 541.7 230.0C542.82 234.68 543.70 239.12 544.7 241.8C545.70 244.48 546.78 246.52 547.7 246.1C548.62 245.68 549.15 242.18 550.2 239.3C551.25 236.42 552.73 231.35 554.0 228.8C555.27 226.25 556.84 224.94 557.8 224.0C558.76 223.06 559.10 223.46 559.8 223.1C560.40 222.83 560.91 221.16 561.7 222.1C562.49 223.04 563.55 225.93 564.5 228.8C565.45 231.67 566.12 236.58 567.4 239.3C568.68 242.02 570.43 242.53 572.2 245.1C573.97 247.67 576.40 251.33 578.0 254.7C579.60 258.07 580.68 262.73 581.8 265.3C582.92 267.87 583.73 269.78 584.7 270.1C585.67 270.42 586.48 269.77 587.6 267.2C588.72 264.63 590.00 258.17 591.4 254.7C592.80 251.23 594.97 247.08 596.0 246.4C597.03 245.72 596.98 248.35 597.6 250.6C598.22 252.85 598.92 257.48 599.7 259.9C600.48 262.32 601.35 263.10 602.3 265.1C603.25 267.10 604.37 270.87 605.4 271.9C606.43 272.93 607.47 272.08 608.5 271.3C609.53 270.52 610.48 266.93 611.6 267.2C612.72 267.47 613.98 272.55 615.2 272.9C616.42 273.25 617.60 270.60 618.9 269.3C620.20 268.00 621.78 266.05 623.0 265.1C624.22 264.15 625.25 264.47 626.2 263.6C627.15 262.73 627.85 261.30 628.7 259.9C629.55 258.50 630.56 255.86 631.3 255.2C632.04 254.54 632.53 255.76 633.1 255.9C633.77 256.13 634.26 256.84 635.0 256.3C635.74 255.76 636.82 253.22 637.6 252.7C638.38 252.18 639.02 251.82 639.7 253.2C640.38 254.58 641.02 257.45 641.7 261.0C642.38 264.55 642.97 269.20 643.8 274.5C644.63 279.80 645.72 287.25 646.7 292.8C647.68 298.35 648.68 307.20 649.7 307.8C650.72 308.40 651.88 300.75 652.8 296.4C653.72 292.05 654.28 287.27 655.2 281.7C656.12 276.13 657.25 267.73 658.3 263.0C659.35 258.27 660.63 254.50 661.5 253.3C662.37 252.10 662.90 254.37 663.5 255.8C664.10 257.23 664.23 255.13 665.1 261.9C665.97 268.67 667.52 283.92 668.7 296.4C669.88 308.88 671.03 324.80 672.2 336.8C673.37 348.80 674.77 361.82 675.7 368.4C676.63 374.98 676.92 377.47 677.8 376.3C678.68 375.13 679.88 366.82 681.0 361.4C682.12 355.98 683.33 348.78 684.5 343.8C685.67 338.82 687.08 334.38 688.0 331.5C688.92 328.62 689.17 328.00 690.0 326.5C690.83 325.00 691.92 322.20 693.0 322.5C694.08 322.80 695.30 329.55 696.5 328.3C697.70 327.05 698.87 319.33 700.2 315.0C701.53 310.67 702.92 308.57 704.5 302.3C706.08 296.03 707.97 284.32 709.7 277.4C711.43 270.48 713.33 264.62 714.9 260.8C716.47 256.98 717.97 255.43 719.1 254.5C720.23 253.57 720.83 255.20 721.7 255.2C722.57 255.20 723.35 253.57 724.3 254.5C725.25 255.43 726.37 256.30 727.4 260.8C728.43 265.30 729.28 276.32 730.5 281.5C731.72 286.68 733.22 287.73 734.7 291.9C736.18 296.07 738.02 305.28 739.4 306.5C740.78 307.72 742.06 300.24 743.0 299.2C743.94 298.16 744.37 299.91 745.0 300.3C745.73 300.61 746.06 303.04 747.1 301.3C748.14 299.56 749.82 292.68 751.3 289.8C752.78 286.92 754.62 284.33 756.0 284.0C757.38 283.67 758.48 285.10 759.6 287.8C760.72 290.50 761.67 295.37 762.7 300.2C763.73 305.03 764.93 311.60 765.8 316.8C766.67 322.00 767.45 328.45 767.9 331.4C768.35 334.35 768.40 333.98 768.5 334.5"/>
<path stroke="#202020" d="M72.6 214.9C72.92 214.58 73.87 213.22 74.5 213.0C75.13 212.78 75.76 213.70 76.4 213.6C77.04 213.50 77.70 212.68 78.3 212.4C79.00 212.18 79.65 212.11 80.3 212.1C80.95 212.09 81.60 212.07 82.2 212.4C82.90 212.67 83.52 213.74 84.2 213.9C84.88 214.06 85.62 213.54 86.3 213.3C87.04 213.06 87.76 212.60 88.5 212.5C89.18 212.36 89.92 212.59 90.6 212.6C91.28 212.61 91.90 212.34 92.5 212.6C93.20 212.77 93.33 214.38 94.5 213.9C95.67 213.42 98.32 210.29 99.6 209.7C100.88 209.11 101.30 210.08 102.2 210.3C103.00 210.61 103.95 210.95 104.7 211.3C105.45 211.65 106.00 212.30 106.7 212.5C107.30 212.64 107.84 211.98 108.6 212.3C109.36 212.62 110.33 213.85 111.2 214.4C112.07 214.91 112.83 215.10 113.8 215.5C114.77 215.90 115.83 217.22 117.0 216.8C118.17 216.38 119.62 214.00 120.8 213.0C121.98 212.00 122.92 211.77 124.1 210.8C125.28 209.83 126.83 207.70 127.9 207.2C128.97 206.70 129.42 207.05 130.5 207.8C131.58 208.55 133.33 210.82 134.4 211.7C135.47 212.58 136.10 212.76 136.9 213.1C137.80 213.39 138.65 213.89 139.5 213.6C140.35 213.31 141.20 211.96 142.1 211.4C142.90 210.76 143.74 210.00 144.6 210.0C145.46 210.00 146.33 210.93 147.2 211.4C148.07 211.79 148.94 212.18 149.8 212.6C150.66 213.02 151.50 213.34 152.4 213.9C153.20 214.44 154.04 215.31 154.9 215.9C155.76 216.49 156.63 216.74 157.5 217.4C158.37 218.11 159.24 219.40 160.1 220.0C160.96 220.60 161.80 220.47 162.6 221.0C163.50 221.57 164.47 222.75 165.2 223.3C165.93 223.85 166.43 223.81 167.1 224.3C167.67 224.78 168.17 225.58 168.9 226.2C169.63 226.82 170.60 227.65 171.4 228.0C172.30 228.42 173.14 228.12 174.0 228.5C174.86 228.88 175.73 229.89 176.6 230.3C177.47 230.76 178.34 230.85 179.2 231.1C180.06 231.35 180.90 231.76 181.8 231.8C182.60 231.92 183.55 231.45 184.3 231.6C185.05 231.75 185.60 232.51 186.2 232.7C186.90 232.95 187.45 233.00 188.2 232.9C188.95 232.80 189.90 232.24 190.8 232.2C191.60 232.08 192.44 232.13 193.3 232.4C194.16 232.67 195.03 233.23 195.9 233.8C196.77 234.36 197.64 235.16 198.5 235.8C199.36 236.44 200.20 237.10 201.1 237.7C201.90 238.20 202.74 238.48 203.6 239.1C204.46 239.72 205.33 240.74 206.2 241.4C207.07 242.00 207.99 242.33 208.8 242.9C209.61 243.47 210.30 244.33 211.1 244.8C211.80 245.20 212.61 245.17 213.3 245.5C213.99 245.83 214.57 246.54 215.2 246.8C215.83 246.97 216.03 247.44 217.1 246.8C218.17 246.16 220.49 243.87 221.6 242.9C222.71 241.93 223.04 241.37 223.8 241.0C224.49 240.58 225.21 240.85 225.9 240.5C226.66 240.22 227.38 239.48 228.1 239.1C228.82 238.72 229.52 238.64 230.2 238.3C230.94 237.91 231.66 237.32 232.4 236.9C233.08 236.50 233.82 236.27 234.5 235.8C235.18 235.33 235.78 234.51 236.4 234.1C237.07 233.71 237.71 233.82 238.3 233.4C238.99 232.99 239.63 232.00 240.3 231.6C240.92 231.23 241.45 231.03 242.2 231.1C242.95 231.17 243.93 231.96 244.8 232.0C245.67 232.13 246.65 231.49 247.4 231.6C248.15 231.71 248.68 232.51 249.3 232.7C249.97 232.86 250.61 232.66 251.2 232.7C251.89 232.69 252.53 232.63 253.2 232.8C253.82 232.93 254.35 233.41 255.1 233.6C255.85 233.79 256.80 234.02 257.6 233.9C258.50 233.79 259.43 233.06 260.2 232.9C260.97 232.74 261.57 232.98 262.2 233.0C262.93 232.95 263.64 232.78 264.3 232.8C264.96 232.82 265.59 233.12 266.2 233.1C266.88 233.10 267.52 232.96 268.2 232.8C268.81 232.55 269.42 231.94 270.1 231.9C270.78 231.86 271.53 232.31 272.2 232.5C272.97 232.71 273.32 232.29 274.4 233.1C275.47 233.91 277.50 235.48 278.7 237.4C279.90 239.32 280.63 241.23 281.6 244.6C282.57 247.97 283.73 253.37 284.5 257.6C285.27 261.83 285.65 266.45 286.2 270.0C286.75 273.55 287.15 275.18 287.8 278.9C288.45 282.62 289.35 288.20 290.1 292.3C290.85 296.40 291.47 300.70 292.3 303.5C293.13 306.30 294.27 308.92 295.1 309.1C295.93 309.28 296.55 305.62 297.3 304.6C298.05 303.58 298.75 302.62 299.6 303.0C300.45 303.38 301.57 304.58 302.4 306.9C303.23 309.22 303.87 313.55 304.6 316.9C305.33 320.25 306.05 324.67 306.8 327.0C307.55 329.33 308.35 330.90 309.1 330.9C309.85 330.90 310.57 329.70 311.3 327.0C312.03 324.30 312.75 319.55 313.5 314.7C314.25 309.85 315.05 303.12 315.8 297.9C316.55 292.68 317.35 287.48 318.0 283.4C318.65 279.32 319.05 277.23 319.7 273.4C320.35 269.57 320.58 263.77 321.9 260.4C323.22 257.03 325.68 255.35 327.6 253.2C329.52 251.05 332.17 248.52 333.4 247.5C334.63 246.48 334.36 247.30 335.0 247.1C335.64 246.90 336.50 246.53 337.2 246.3C338.00 246.10 338.59 246.52 339.5 245.8C340.41 245.08 341.42 243.43 342.7 242.0C343.98 240.57 346.13 238.08 347.2 237.2C348.27 236.32 348.49 236.93 349.1 236.7C349.78 236.45 350.42 236.00 351.1 235.8C351.71 235.51 352.24 235.30 353.0 235.2C353.76 235.10 354.73 234.99 355.6 235.2C356.47 235.32 357.41 236.13 358.2 236.2C358.99 236.27 359.62 235.58 360.3 235.6C361.04 235.53 361.76 236.09 362.5 236.0C363.18 235.97 363.89 235.51 364.6 235.2C365.31 234.89 366.02 234.39 366.7 234.2C367.44 233.95 368.16 233.85 368.9 233.9C369.58 233.90 370.28 234.15 371.0 234.3C371.72 234.45 372.44 234.76 373.2 234.8C373.89 234.84 374.61 234.48 375.3 234.5C376.06 234.61 376.82 235.14 377.5 235.2C378.18 235.26 378.78 235.05 379.4 234.9C380.07 234.81 380.71 234.66 381.4 234.5C381.99 234.34 382.63 234.07 383.3 234.0C383.92 233.87 384.56 233.76 385.2 233.9C385.84 234.04 386.48 234.84 387.1 234.8C387.77 234.75 388.41 233.74 389.0 233.6C389.69 233.49 390.33 233.95 391.0 234.1C391.62 234.17 392.26 234.26 392.9 234.3C393.54 234.34 394.18 234.11 394.8 234.3C395.47 234.49 396.11 235.28 396.8 235.5C397.39 235.64 398.03 235.24 398.7 235.4C399.32 235.49 399.85 236.12 400.6 236.2C401.35 236.28 402.33 235.87 403.2 235.8C404.07 235.77 404.52 235.20 405.8 235.9C407.08 236.60 409.62 238.93 410.9 240.0C412.18 241.07 412.63 241.70 413.5 242.3C414.37 243.00 415.03 244.17 416.1 243.9C417.17 243.63 418.83 241.50 419.9 240.7C420.97 239.90 421.63 239.55 422.5 239.1C423.37 238.68 424.24 238.33 425.1 238.1C425.96 237.87 426.80 237.89 427.6 237.7C428.50 237.59 429.46 237.24 430.2 237.2C430.94 237.16 431.47 237.73 432.1 237.5C432.73 237.30 433.37 236.11 434.0 235.9C434.63 235.68 435.26 236.27 435.9 236.2C436.54 236.13 437.21 235.57 437.9 235.5C438.52 235.43 439.18 235.65 439.8 235.8C440.49 235.88 441.16 235.98 441.8 236.2C442.44 236.42 443.03 236.91 443.6 237.1C444.27 237.29 444.88 237.32 445.5 237.3C446.12 237.35 446.73 237.08 447.4 237.2C447.97 237.33 448.57 238.03 449.2 238.1C449.83 238.17 450.48 237.77 451.1 237.6C451.75 237.46 452.39 237.19 453.0 237.2C453.67 237.12 454.30 237.50 454.9 237.4C455.58 237.28 456.22 236.52 456.9 236.5C457.50 236.50 458.13 237.19 458.8 237.3C459.41 237.50 460.05 237.57 460.7 237.4C461.32 237.32 461.94 236.55 462.6 236.6C463.26 236.65 463.97 237.56 464.7 237.8C465.35 237.98 466.03 237.71 466.7 237.9C467.41 238.00 468.09 238.70 468.8 238.7C469.47 238.61 470.15 237.57 470.8 237.6C471.53 237.61 472.19 238.68 472.9 238.8C473.61 238.92 474.38 238.22 475.1 238.3C475.87 238.35 476.61 239.12 477.4 239.2C478.09 239.27 478.83 238.90 479.6 238.7C480.32 238.53 481.08 238.24 481.8 238.1C482.52 237.96 483.19 237.79 483.9 237.9C484.57 237.97 485.27 238.62 486.0 238.6C486.65 238.68 487.35 238.11 488.0 238.1C488.73 237.99 489.43 238.35 490.1 238.3C490.81 238.23 491.54 237.84 492.2 237.7C492.86 237.56 493.43 237.52 494.1 237.5C494.67 237.42 495.28 237.33 495.9 237.4C496.52 237.48 497.13 237.80 497.8 237.9C498.37 238.03 498.96 238.06 499.6 238.1C500.24 238.14 500.91 237.97 501.6 238.2C502.22 238.33 502.88 238.87 503.5 239.2C504.19 239.49 504.84 239.74 505.5 240.0C506.16 240.26 506.81 240.78 507.5 240.7C508.12 240.69 508.78 239.98 509.4 239.7C510.09 239.48 510.74 239.29 511.4 239.2C512.06 239.14 512.71 239.23 513.4 239.3C514.02 239.31 514.68 239.35 515.3 239.5C515.99 239.59 516.64 239.74 517.3 240.0C517.96 240.26 518.61 240.89 519.3 241.1C519.92 241.22 520.58 240.86 521.2 241.0C521.89 241.10 522.49 241.70 523.2 241.8C523.91 241.90 524.71 241.66 525.5 241.6C526.22 241.53 526.98 241.32 527.7 241.4C528.49 241.52 529.32 241.92 530.0 242.2C530.68 242.48 531.20 243.07 531.8 243.1C532.40 243.17 532.93 242.10 533.6 242.5C534.27 242.90 535.12 243.63 535.8 245.5C536.48 247.37 536.90 248.80 537.7 253.7C538.50 258.60 539.48 267.53 540.6 274.9C541.72 282.27 543.28 291.98 544.4 297.9C545.52 303.82 546.33 309.77 547.3 310.4C548.27 311.03 549.25 306.35 550.2 301.7C551.15 297.05 551.88 288.57 553.0 282.5C554.12 276.43 555.68 269.13 556.9 265.3C558.12 261.47 559.18 258.87 560.3 259.5C561.42 260.13 562.42 265.33 563.6 269.1C564.78 272.87 566.44 279.95 567.4 282.1C568.36 284.25 568.70 281.98 569.3 282.0C570.00 281.98 570.67 282.15 571.3 282.1C571.93 282.05 572.53 281.67 573.1 281.7C573.77 281.70 574.23 281.00 575.0 282.2C575.77 283.40 576.95 285.53 577.8 288.9C578.65 292.27 579.35 297.37 580.1 302.4C580.85 307.43 581.57 314.25 582.3 319.1C583.03 323.95 583.85 329.17 584.5 331.5C585.15 333.83 585.53 333.48 586.2 333.1C586.87 332.72 587.75 331.72 588.5 329.2C589.25 326.68 589.97 322.47 590.7 318.0C591.43 313.53 592.15 307.33 592.9 302.4C593.65 297.47 594.58 291.10 595.2 288.4C595.82 285.70 595.87 285.83 596.6 286.2C597.33 286.57 598.63 290.15 599.6 290.6C600.57 291.05 601.37 288.15 602.4 288.9C603.43 289.65 604.58 294.82 605.8 295.1C607.02 295.38 608.68 291.17 609.7 290.6C610.72 290.03 610.97 289.47 611.9 291.7C612.83 293.93 614.27 302.60 615.3 304.0C616.33 305.40 617.31 300.73 618.1 300.1C618.89 299.47 619.40 299.96 620.0 300.2C620.70 300.53 620.92 300.79 622.0 301.8C623.08 302.81 625.28 305.98 626.5 306.3C627.72 306.62 628.28 303.70 629.3 303.7C630.32 303.70 631.58 305.92 632.6 306.3C633.62 306.68 634.37 306.93 635.4 306.0C636.43 305.07 637.95 301.03 638.8 300.7C639.65 300.37 639.85 300.93 640.5 304.0C641.15 307.07 642.03 313.63 642.7 319.1C643.37 324.57 643.68 328.58 644.5 336.8C645.32 345.02 646.72 360.70 647.6 368.4C648.48 376.10 649.07 381.73 649.8 383.0C650.53 384.27 651.20 381.07 652.0 376.0C652.80 370.93 653.58 362.07 654.6 352.6C655.62 343.13 656.93 328.13 658.1 319.2C659.27 310.27 660.57 300.47 661.6 299.0C662.63 297.53 663.42 302.63 664.3 310.4C665.18 318.17 666.07 332.53 666.9 345.6C667.73 358.67 668.42 375.20 669.3 388.8C670.18 402.40 671.23 416.00 672.2 427.2C673.17 438.40 674.30 449.28 675.1 456.0C675.90 462.72 676.37 466.55 677.0 467.5C677.63 468.45 678.10 466.82 678.9 461.7C679.70 456.58 680.67 445.75 681.8 436.8C682.93 427.85 684.42 416.97 685.7 408.0C686.98 399.03 688.38 389.08 689.5 383.0C690.62 376.92 691.28 374.70 692.4 371.5C693.52 368.30 695.08 365.72 696.2 363.8C697.32 361.88 697.88 362.28 699.1 360.0C700.32 357.72 702.07 355.22 703.5 350.1C704.93 344.98 706.32 336.57 707.7 329.3C709.08 322.03 710.60 312.03 711.8 306.5C713.00 300.97 713.87 298.53 714.9 296.1C715.93 293.67 717.13 292.51 718.0 291.9C718.87 291.29 719.40 292.02 720.1 292.4C720.80 292.86 721.17 292.76 722.2 294.4C723.23 296.04 725.02 298.38 726.3 302.3C727.58 306.22 728.99 315.44 729.9 317.9C730.81 320.36 731.13 317.17 731.8 317.1C732.37 316.97 732.26 316.29 733.6 317.3C734.94 318.31 738.23 322.65 739.8 323.1C741.37 323.55 741.88 319.58 743.0 320.0C744.12 320.42 745.12 325.95 746.5 325.6C747.88 325.25 750.16 319.39 751.3 317.9C752.44 316.41 752.67 317.15 753.3 316.6C754.03 316.12 754.71 315.23 755.4 314.8C756.09 314.37 756.80 314.11 757.5 314.0C758.20 313.97 758.57 313.07 759.6 314.4C760.63 315.73 762.42 320.13 763.7 322.0C764.98 323.87 766.50 324.73 767.3 325.6C768.10 326.47 768.30 326.93 768.5 327.2"/>
</g>
<g stroke="#000" stroke-width="2" fill="none">
<rect x="72" y="8.8" width="697" height="518.7"/>
<line x1="124.5" y1="527.5" x2="124.5" y2="521.8"/><line x1="176.4" y1="527.5" x2="176.4" y2="516.9"/><line x1="228.4" y1="527.5" x2="228.4" y2="521.8"/><line x1="280.3" y1="527.5" x2="280.3" y2="516.9"/><line x1="332.3" y1="527.5" x2="332.3" y2="521.8"/><line x1="384.3" y1="527.5" x2="384.3" y2="516.9"/><line x1="436.2" y1="527.5" x2="436.2" y2="521.8"/><line x1="488.2" y1="527.5" x2="488.2" y2="516.9"/><line x1="540.1" y1="527.5" x2="540.1" y2="521.8"/><line x1="592.1" y1="527.5" x2="592.1" y2="516.9"/><line x1="644.1" y1="527.5" x2="644.1" y2="521.8"/><line x1="696.0" y1="527.5" x2="696.0" y2="516.9"/><line x1="748.0" y1="527.5" x2="748.0" y2="521.8"/>
</g>
<g font-family="Liberation Serif, serif" font-size="22.6" text-anchor="middle" fill="#000">
<text x="71.8" y="555.7">4000</text><text x="175.7" y="555.7">3500</text><text x="279.6" y="555.7">3000</text><text x="383.6" y="555.7">2500</text><text x="487.5" y="555.7">2000</text><text x="591.4" y="555.7">1500</text><text x="695.3" y="555.7">1000</text>
</g>
<text x="0" y="0" transform="translate(29.3,368) rotate(-90)" font-family="Liberation Serif, serif" font-weight="bold" font-size="27" letter-spacing="0.1" fill="#000">Transmittance (%)</text>
<text x="312" y="613.6" font-family="Liberation Serif, serif" font-weight="bold" font-size="24" letter-spacing="0.1" fill="#000">Wavenumber (cm<tspan dx="1.5" dy="-14.5" font-size="22">-1</tspan><tspan dx="0.8" dy="14.5">)</tspan></text>
<g stroke-width="1.15">
<line x1="126" y1="403" x2="181" y2="403" stroke="#202020"/>
<line x1="126" y1="432.8" x2="181" y2="432.8" stroke="#e02428"/>
<line x1="126" y1="463.3" x2="181" y2="463.3" stroke="#3020b8"/>
<line x1="126" y1="493.7" x2="181" y2="493.7" stroke="#23857a"/>
</g>
<g font-family="Liberation Serif, serif" font-size="24">
<text x="186.5" y="410.7" fill="#000">PU</text>
<text x="186.5" y="440.5" fill="#e81010">Ag/HNTs/PU<tspan dx="2.3">-1</tspan></text>
<text x="186.5" y="471.2" fill="#1414c8">Ag/HNTs/PU<tspan dx="2.3">-2</tspan></text>
<text x="186.5" y="501" fill="#1a7a70">Ag/HNTs/PU<tspan dx="2.3">-3</tspan></text>
</g>
<g font-family="Liberation Serif, serif" font-size="33" fill="#e8000c">
<text x="127.3" y="333.3">-NH</text>
<text x="349" y="408.6">-CH<tspan font-size="22.5" dx="-0.8" dy="6.8">2</tspan></text>
<text x="473.5" y="404.6">C=O</text>
<text x="496" y="464.6">C-O-C</text>
</g>
<g fill="#fa0000" stroke="none">
<polygon points="173.1,297.7 194.8,274.4 198.5,277.8 203.1,261.6 187.2,267.3 190.9,270.7 169.1,294.1"/><polygon points="355.7,375.1 325.4,336.0 329.4,332.9 314.1,325.8 317.2,342.4 321.2,339.3 351.5,378.5"/><polygon points="508.7,371.2 527.7,337.2 532.1,339.6 532.7,322.8 518.6,332.1 523.0,334.6 503.9,368.6"/><polygon points="587.3,455.8 634.8,455.8 634.8,460.8 649.8,453.1 634.8,445.4 634.8,450.4 587.3,450.4"/>
</g>
</svg>
</body></html>
